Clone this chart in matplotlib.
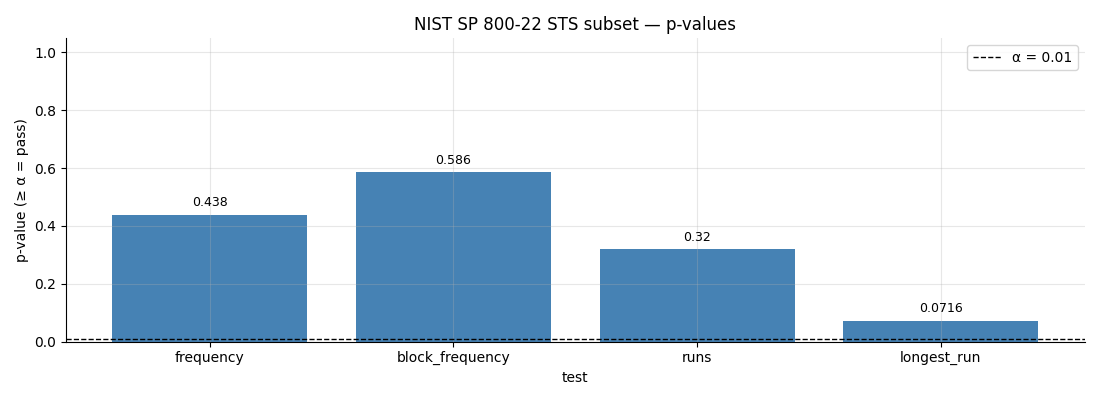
import matplotlib
matplotlib.use("Agg")
import matplotlib.pyplot as plt

tests = ["frequency", "block_frequency", "runs", "longest_run"]
p_values = [0.438, 0.586, 0.32, 0.0716]
value_labels = ["0.438", "0.586", "0.32", "0.0716"]
alpha = 0.01

fig, ax = plt.subplots(figsize=(11, 4), dpi=100)
bars = ax.bar(tests, p_values, color="steelblue", width=0.8)
ax.bar_label(bars, labels=value_labels, padding=4, fontsize=9)
ax.axhline(alpha, color="black", linestyle="--", linewidth=1, label=f"α = {alpha}")
ax.set_ylim(0, 1.05)
ax.set_xlabel("test")
ax.set_ylabel("p-value (≥ α = pass)")
ax.set_title("NIST SP 800-22 STS subset — p-values")
ax.grid(True, alpha=0.3)
ax.spines["top"].set_visible(False)
ax.spines["right"].set_visible(False)
ax.legend(loc="upper right")

plt.subplots_adjust(left=0.06, right=0.986, top=0.905, bottom=0.146)
plt.savefig("out.png")
